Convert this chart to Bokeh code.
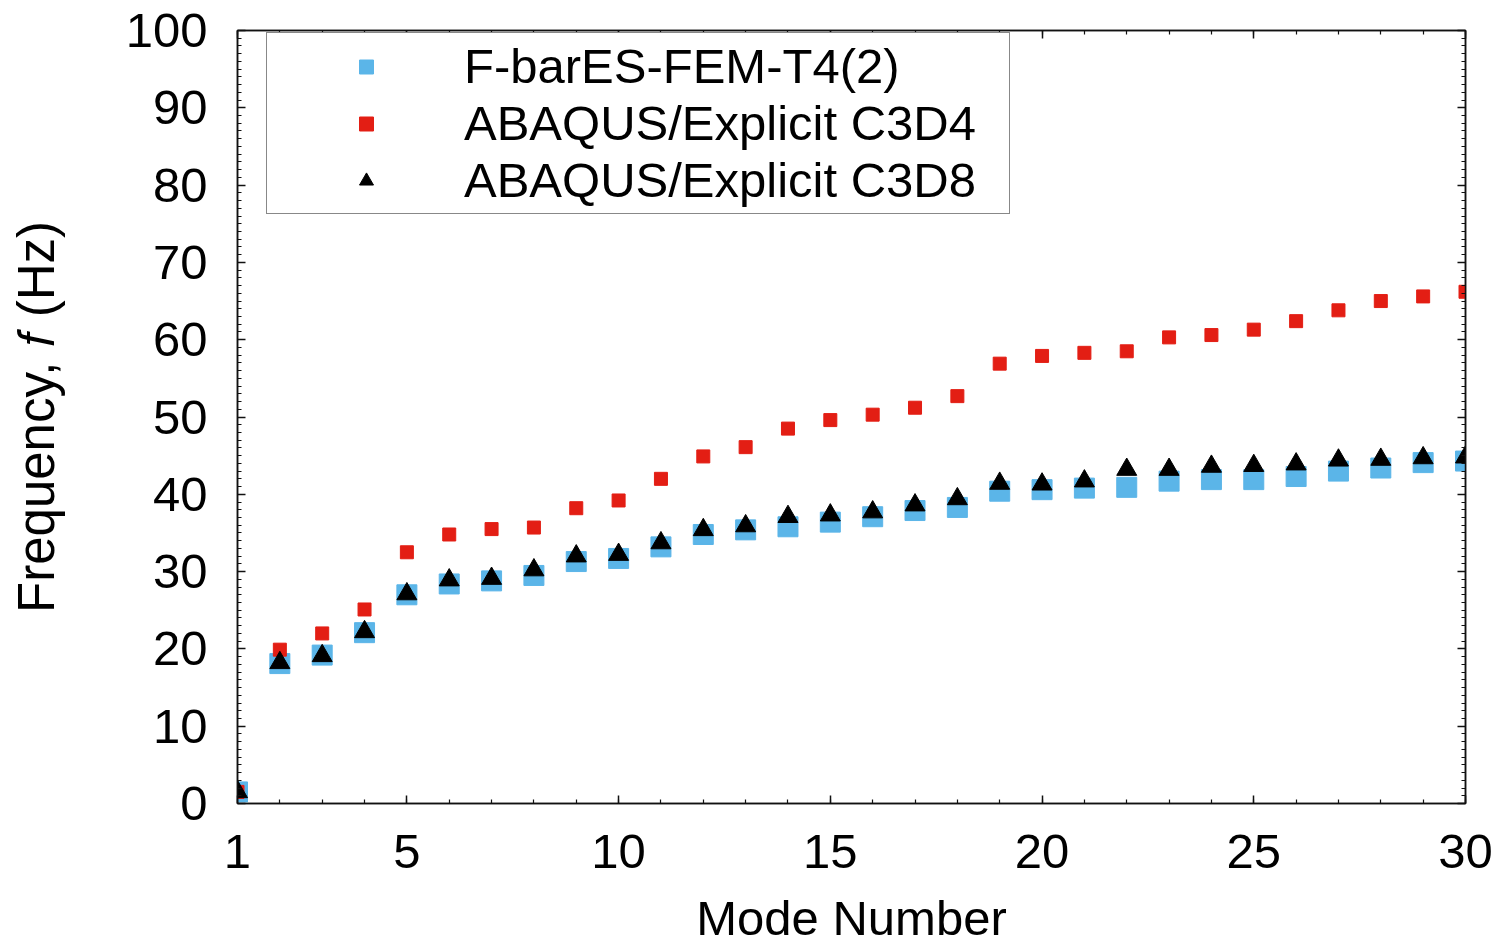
from bokeh.plotting import figure
from bokeh.models import (FixedTicker, LinearAxis, Range1d, Legend, LegendItem,
                          CustomLabelingPolicy)
from bokeh.embed import file_html
from bokeh.resources import INLINE

modes = list(range(1, 31))
fbar_es_fem = [1.5, 18.1, 19.2, 22.1, 27.0, 28.4, 28.8, 29.5, 31.3, 31.7,
               33.2, 34.8, 35.4, 35.8, 36.4, 37.1, 37.9, 38.3, 40.4, 40.6,
               40.8, 40.9, 41.7, 41.9, 41.9, 42.3, 43.0, 43.4, 44.1, 44.3]
abaqus_c3d4 = [1.5, 19.9, 22.0, 25.1, 32.5, 34.8, 35.5, 35.7, 38.2, 39.2,
               42.0, 44.9, 46.1, 48.5, 49.6, 50.3, 51.2, 52.7, 56.9, 57.9,
               58.3, 58.5, 60.3, 60.6, 61.3, 62.4, 63.8, 65.0, 65.6, 66.2]
abaqus_c3d8 = [1.5, 18.2, 19.1, 22.2, 27.1, 28.9, 29.1, 30.2, 32.0, 32.2,
               33.7, 35.4, 35.9, 37.1, 37.3, 37.7, 38.6, 39.4, 41.4, 41.3,
               41.7, 43.2, 43.2, 43.6, 43.7, 43.9, 44.4, 44.5, 44.7, 44.8]
series_names = ["F-barES-FEM-T4(2)", "ABAQUS/Explicit C3D4", "ABAQUS/Explicit C3D8"]
x_major = [1, 5, 10, 15, 20, 25, 30]
y_major = list(range(0, 101, 10))
x_title = "Mode Number"
y_title = "Frequency, \U0001D453 (Hz)"

FONT = "Liberation Sans"
FS = "49px"
INK = "#111111"

p = figure(width=1500, height=947, output_backend="svg", toolbar_location=None,
           x_range=Range1d(1, 30), y_range=Range1d(0, 100),
           min_border_left=237, min_border_right=35, min_border_top=30,
           min_border_bottom=144)
p.grid.visible = False
p.outline_line_color = INK
p.outline_line_width = 1.5
p.background_fill_color = "white"
p.border_fill_color = "white"

r1 = p.scatter(modes, fbar_es_fem, marker="square", size=20, color="#5bb5e8")
r2 = p.scatter(modes, abaqus_c3d4, marker="square", size=13, color="#e31e14")
r3 = p.scatter(modes, abaqus_c3d8, marker="triangle", size=20, color="black")

xt = FixedTicker(ticks=x_major, minor_ticks=modes)
yt = FixedTicker(ticks=y_major, minor_ticks=list(range(0, 101)))

def style(ax, labels=True):
    ax.axis_line_color = INK
    ax.axis_line_width = 1.5
    ax.major_tick_line_color = INK
    ax.minor_tick_line_color = INK
    ax.major_tick_line_width = 1.5
    ax.minor_tick_line_width = 1.2
    ax.major_tick_in = 8
    ax.major_tick_out = 0
    ax.minor_tick_in = 4
    ax.minor_tick_out = 0
    if labels:
        ax.major_label_text_font = FONT
        ax.major_label_text_font_size = FS
        ax.major_label_text_color = "black"
        ax.axis_label_text_font = FONT
        ax.axis_label_text_font_size = FS
        ax.axis_label_text_font_style = "normal"
        ax.axis_label_text_color = "black"
    else:
        ax.major_label_policy = CustomLabelingPolicy(code="return new Set()")
        ax.major_label_standoff = 0
        ax.axis_label = None

xa = p.xaxis[0]
xa.ticker = xt
xa.axis_label = x_title
style(xa)
xa.major_label_standoff = 31
xa.axis_label_standoff = 20

ya = p.yaxis[0]
ya.ticker = yt
ya.axis_label = y_title
style(ya)
ya.axis_label_text_font_size = "51px"
ya.major_label_standoff = 30
ya.axis_label_standoff = 58

top = LinearAxis(ticker=xt)
style(top, labels=False)
p.add_layout(top, "above")
right = LinearAxis(ticker=yt)
style(right, labels=False)
p.add_layout(right, "right")

legend = Legend(items=[LegendItem(label=series_names[0], renderers=[r1]),
                       LegendItem(label=series_names[1], renderers=[r2]),
                       LegendItem(label=series_names[2], renderers=[r3])],
                location=(29, 589), margin=0, padding=5, spacing=1,
                glyph_width=188, glyph_height=35, label_height=52,
                label_standoff=4, label_width=540,
                label_text_font=FONT, label_text_font_size="49px",
                label_text_color="black",
                border_line_color=INK, border_line_width=1.5,
                background_fill_alpha=1.0)
p.add_layout(legend)

open("out.html", "w").write(file_html(p, INLINE))
